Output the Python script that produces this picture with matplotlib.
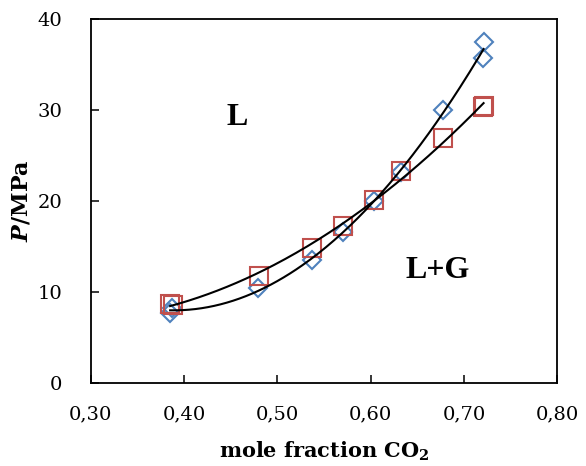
import numpy as np
import matplotlib.pyplot as plt
from matplotlib.ticker import FuncFormatter

plt.rcParams['font.family'] = 'DejaVu Serif'
plt.rcParams['mathtext.fontset'] = 'custom'
plt.rcParams['mathtext.rm'] = 'DejaVu Serif:bold'
plt.rcParams['mathtext.it'] = 'DejaVu Serif:italic:bold'

# blue diamonds
x_blue = [0.385, 0.387, 0.479, 0.537, 0.570, 0.603, 0.633, 0.678, 0.720, 0.721]
p_blue = [7.7, 8.2, 10.4, 13.5, 16.6, 20.0, 23.2, 30.0, 35.7, 37.5]
# red squares
x_red = [0.385, 0.388, 0.480, 0.537, 0.570, 0.603, 0.633, 0.677, 0.720, 0.721]
p_red = [8.7, 8.6, 11.8, 14.8, 17.3, 20.1, 23.3, 26.9, 30.3, 30.4]

blue = '#4F81BD'
red = '#C0504D'

fig = plt.figure(figsize=(5.86, 4.66), dpi=100)
ax = fig.add_axes([0.155, 0.178, 0.796, 0.781])

ax.plot(x_blue, p_blue, 'D', ms=9.5, mfc='none', mec=blue, mew=1.5)
ax.plot(x_red, p_red, 's', ms=13, mfc='none', mec=red, mew=1.5)

# polynomial trendlines (order 2)
for xs, ps in [(x_blue, p_blue), (x_red, p_red)]:
    c = np.polyfit(xs, ps, 2)
    xx = np.linspace(min(xs), max(xs), 200)
    ax.plot(xx, np.polyval(c, xx), color='black', lw=1.5)

ax.text(0.457, 29.2, 'L', fontsize=23, fontweight='bold', ha='center', va='center',
        family='Liberation Serif')
ax.text(0.672, 12.4, 'L+G', fontsize=23, fontweight='bold', ha='center', va='center',
        family='Liberation Serif')

ax.set_xlim(0.30, 0.80)
ax.set_ylim(0, 40)
ax.set_xticks(np.arange(0.30, 0.81, 0.10))
ax.set_yticks([0, 10, 20, 30, 40])
ax.xaxis.set_major_formatter(FuncFormatter(lambda v, p: f"{v:.2f}".replace('.', ',')))
ax.tick_params(direction='in', length=6, width=1.1, labelsize=14)
ax.tick_params(axis='x', pad=16)
ax.tick_params(axis='y', pad=20.5)

ax.set_xlabel('mole fraction CO$_2$', fontsize=15, fontweight='bold')
ax.set_ylabel('$P$/MPa', fontsize=16, fontweight='bold')
ax.xaxis.set_label_coords(0.5, -0.155)
ax.yaxis.set_label_coords(-0.124, 0.5)

for s in ax.spines.values():
    s.set_linewidth(1.3)

fig.savefig('out.png', dpi=100)
